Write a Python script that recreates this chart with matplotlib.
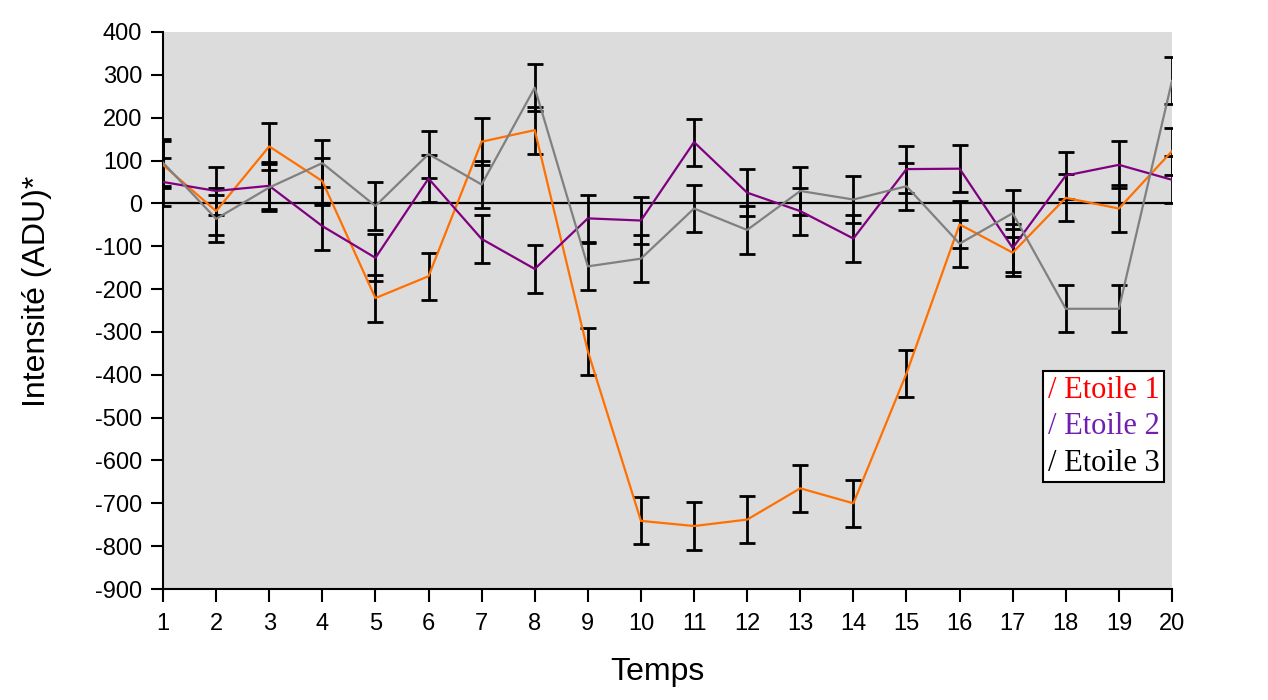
import matplotlib
matplotlib.use("Agg")
import matplotlib.pyplot as plt
from matplotlib.lines import Line2D

temps = list(range(1, 21))
etoile1 = [90, -18, 133, 52, -221, -170, 144, 171, -345, -741, -753, -738, -665, -700, -397, -49, -115, 13, -12, 122]
etoile2 = [50, 29, 41, -53, -127, 58, -83, -153, -35, -40, 143, 25, -18, -82, 80, 81, -104, 65, 90, 55]
etoile3 = [95, -36, 37, 94, -6, 115, 44, 270, -147, -129, -12, -62, 29, 9, 40, -94, -23, -246, -246, 286]
erreur = 55
yticks = list(range(-900, 401, 100))
labels = ["/ Etoile 1", "/ Etoile 2", "/ Etoile 3"]

plt.rcParams['font.family'] = ['Liberation Sans', 'DejaVu Sans']
plt.rcParams['axes.unicode_minus'] = False
fig = plt.figure(figsize=(12.68, 7.0), dpi=100)
ax = fig.add_axes([163/1268, 1-589/700, (1172-163)/1268, (589-32)/700])
ax.set_facecolor('#dcdcdc')

colors = ['#ff7000', '#800080', '#808080']
for series, c in zip([etoile1, etoile2, etoile3], colors):
    ax.errorbar(temps, series, yerr=erreur, color=c, lw=1.6, ecolor='black',
                elinewidth=2, capsize=6, capthick=2, zorder=3)
ax.axhline(0, color='black', lw=1.6, zorder=2)

ax.set_xlim(1, 20)
ax.set_ylim(-900, 400)
ax.set_xticks(temps)
ax.set_yticks(yticks)
ax.tick_params(axis='both', direction='out', length=9, width=1.5, labelsize=17, colors='black')
ax.tick_params(axis='x', pad=8)
ax.tick_params(axis='y', pad=6)
for s in ['top', 'right']:
    ax.spines[s].set_visible(False)
for s in ['left', 'bottom']:
    ax.spines[s].set_linewidth(1.5)

ax.set_xlabel('Temps', fontsize=23)
ax.xaxis.set_label_coords(0.49, -0.122)
ax.set_ylabel('Intensité (ADU)*', fontsize=23)
ax.yaxis.set_label_coords(-0.11, 0.535)

handles = [Line2D([], [], lw=0) for _ in labels]
leg = fig.legend(handles, labels, loc='upper left', bbox_to_anchor=(1043/1268, 1-371/700),
                 handlelength=0, handletextpad=0, frameon=True, fancybox=False,
                 edgecolor='black', framealpha=1, borderpad=0.15, labelspacing=0.25,
                 borderaxespad=0, prop={'family': 'Liberation Serif', 'size': 22})
leg.get_frame().set_linewidth(1.5)
for t, c in zip(leg.get_texts(), ['red', '#7020b0', 'black']):
    t.set_color(c)

fig.savefig('out.png', dpi=100)
